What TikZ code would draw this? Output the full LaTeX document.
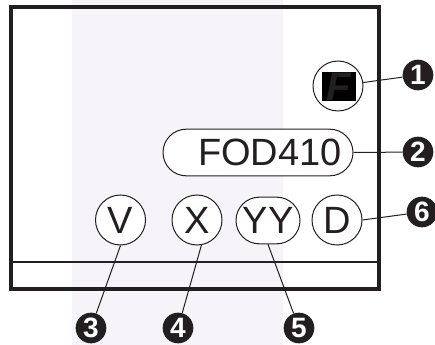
\documentclass[tikz,border=0pt]{standalone}
\usepackage{fontspec}
\setmainfont{Liberation Sans}
\usetikzlibrary{shapes.misc}
\definecolor{bandcol}{HTML}{F6F4F8}
\definecolor{inkcol}{HTML}{231F20}
\tikzset{
  key/.style = {draw = inkcol, line width = 0.75pt, fill = white, text = inkcol, circle, minimum size = 37.5pt, inner sep = 0pt, font = \fontsize{28.5}{28.5}\selectfont},
  pill/.style = {draw = inkcol, line width = 0.75pt, fill = white, text = inkcol, rounded rectangle, inner sep = 0pt, minimum height = 35pt, font = \fontsize{28.5}{28.5}\selectfont},
  badge/.style = {fill = inkcol, text = white, circle, minimum size = 23pt, inner sep = 0pt, font = \fontsize{21}{21}\selectfont\bfseries},
  leader/.style = {draw = inkcol, line width = 0.75pt}
}
\begin{document}
\begin{tikzpicture}[x = 0.75pt, y = -0.75pt]
      \useasboundingbox (0, 0) rectangle (435, 345);
      \fill [bandcol] (72, 0) rectangle (283, 345);
      \draw [draw = inkcol, line width = 2.8pt] (11, 7) rectangle (379, 289);
      \draw [draw = inkcol, line width = 1.5pt] (11, 262) -- (379, 262);
      % badges
      \node [badge] (one) at (418, 75) {1};
      \node [badge] (two) at (418, 152) {2};
      \node [badge] (three) at (91, 328) {3};
      \node [badge] (four) at (178, 328) {4};
      \node [badge] (five) at (299, 328) {5};
      \node [badge] (six) at (422, 212) {6};
      % keys
      \node [key] (icon) at (338, 86) {};
      \node [fill = black, text = inkcol, minimum width = 25.5pt, minimum height = 22pt, inner sep = 0pt, font = \fontsize{30}{30}\selectfont\bfseries\itshape] (flag) at (338.5, 86.5) {F};
      \node [pill, minimum width = 142.5pt] (fod) at (258, 152.5) {\hspace*{18pt}FOD410};
      \node [key] (v) at (120.5, 220) {V};
      \node [key] (x) at (197, 220) {X};
      \node [pill, minimum width = 48pt] (yy) at (268, 220.5) {YY};
      \node [key] (d) at (337, 220) {D};
      % leaders
      \draw [leader] (icon) -- (one);
      \draw [leader] (fod.east) -- (two);
      \draw [leader] (v.south) -- (three);
      \draw [leader] (x.-80) -- (four);
      \draw [leader] (yy.south) -- (five);
      \draw [leader] (d.east) -- (six);
\end{tikzpicture}
\end{document}
